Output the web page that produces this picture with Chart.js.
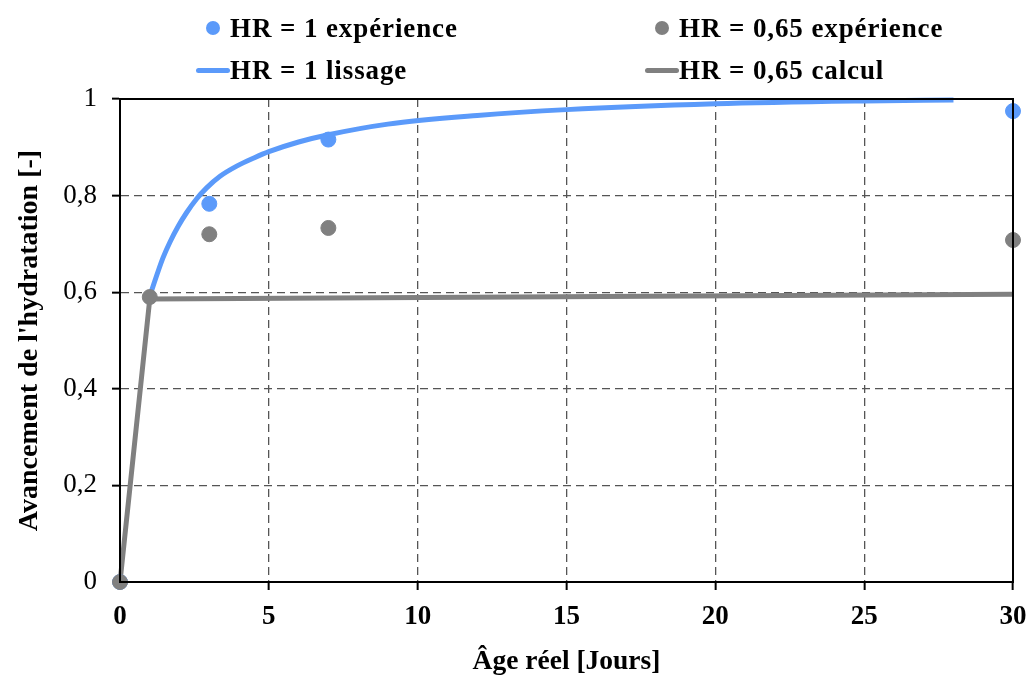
<!DOCTYPE html>
<html>
<head>
<meta charset="utf-8">
<script src="https://cdn.jsdelivr.net/npm/chart.js@4"></script>
<style>
  body { margin: 0; background: #fff; }
  #wrap { position: relative; width: 1030px; height: 676px; }
  #legend { position: absolute; left: 0; top: 0; width: 1030px; height: 95px;
            font: bold 27px 'Liberation Serif', serif; letter-spacing: 0.9px; color: #000; }
  .item { position: absolute; display: flex; align-items: center; height: 30px; }
  .mark { width: 34px; height: 30px; position: relative; }
  .dot { position: absolute; width: 14px; height: 14px; border-radius: 50%; left: 10px; top: 8px; }
  .ln { position: absolute; height: 5px; border-radius: 3px; left: 0; right: 0; top: 13px; }
</style>
</head>
<body>
<div id="wrap">
  <canvas id="chart" width="1030" height="676"></canvas>
  <div id="legend"></div>
</div>
<script>
const blue = '#5b9afa';
const grey = '#808080';

// HR = 1 expérience
const joursExp1 = [0, 3, 7, 30];
const avancExp1 = [0, 0.783, 0.916, 0.975];

// HR = 0,65 expérience
const joursExp065 = [0, 1, 3, 7, 30];
const avancExp065 = [0, 0.59, 0.72, 0.733, 0.708];

// HR = 1 lissage
const joursLissage = [1, 1.29, 1.45, 1.68, 1.96, 2.24, 2.57, 2.91, 3.36, 3.92, 4.5, 5, 6, 7, 9, 12, 15, 20, 25, 28];
const avancLissage = [0.592, 0.645, 0.672, 0.704, 0.737, 0.765, 0.793, 0.816, 0.84, 0.861, 0.878, 0.891, 0.911, 0.926, 0.948, 0.966, 0.978, 0.99, 0.996, 0.998];

// HR = 0,65 calcul
const joursCalcul = [0, 1, 30];
const avancCalcul = [0, 0.586, 0.596];

const xTicks = [0, 5, 10, 15, 20, 25, 30];

const toXY = (xs, ys) => xs.map((x, i) => ({ x: x, y: ys[i] }));

const frame = {
  id: 'frame',
  afterDatasetsDraw(chart) {
    const a = chart.chartArea;
    const ctx = chart.ctx;
    ctx.save();
    ctx.strokeStyle = '#000';
    ctx.lineWidth = 2;
    ctx.strokeRect(a.left, a.top, a.right - a.left, a.bottom - a.top);
    ctx.restore();
  }
};

const chart = new Chart(document.getElementById('chart').getContext('2d'), {
  type: 'scatter',
  data: {
    datasets: [
      { label: 'HR = 1 expérience', data: toXY(joursExp1, avancExp1), backgroundColor: blue, borderColor: blue,
        pointRadius: 7.5, showLine: false, order: 1, clip: false, legendCol: 0, legendRow: 0 },
      { label: 'HR = 0,65 expérience', data: toXY(joursExp065, avancExp065), backgroundColor: grey, borderColor: grey,
        pointRadius: 7.5, showLine: false, order: 0, clip: false, legendCol: 1, legendRow: 0 },
      { label: 'HR = 1 lissage', data: toXY(joursLissage, avancLissage), borderColor: blue, backgroundColor: blue,
        showLine: true, borderWidth: 5, pointRadius: 0, cubicInterpolationMode: 'monotone',
        order: 3, clip: false, legendCol: 0, legendRow: 1 },
      { label: 'HR = 0,65 calcul', data: toXY(joursCalcul, avancCalcul), borderColor: grey, backgroundColor: grey,
        showLine: true, borderWidth: 5, pointRadius: 0, order: 2, clip: false, legendCol: 1, legendRow: 1 }
    ]
  },
  options: {
    responsive: false,
    animation: false,
    layout: { padding: { top: 99, right: 17, left: 0, bottom: 0 } },
    plugins: { legend: { display: false }, tooltip: { enabled: false } },
    scales: {
      x: {
        type: 'linear', min: 0, max: 30,
        afterFit: s => { s.height = 94; s.paddingLeft = 0; s.paddingRight = 0; },
        afterBuildTicks: s => { s.ticks = xTicks.map(v => ({ value: v })); },
        grid: { color: '#555', lineWidth: 1.3, tickLength: 8, tickColor: '#000', tickWidth: 2 },
        border: { color: '#000', width: 2, dash: [8, 5] },
        ticks: { color: '#000', padding: 11, font: { family: 'Liberation Serif', size: 27, weight: 'bold' } },
        title: { display: true, text: 'Âge réel [Jours]', color: '#000', padding: { top: 0, bottom: 0 },
                 font: { family: 'Liberation Serif', size: 27.5, weight: 'bold', lineHeight: 1.05 } }
      },
      y: {
        type: 'linear', min: 0, max: 1,
        afterFit: s => { s.width = 120; },
        grid: { color: '#555', lineWidth: 1.3, tickLength: 8, tickColor: '#000', tickWidth: 2 },
        border: { color: '#000', width: 2, dash: [8, 5] },
        ticks: { stepSize: 0.2, color: '#000', padding: 15,
                 font: { family: 'Liberation Serif', size: 27 },
                 callback: v => String(Math.round(v * 10) / 10).replace('.', ',') },
        title: { display: true, text: "Avancement de l'hydratation [-]", color: '#000', padding: { top: 15, bottom: 0 },
                 font: { family: 'Liberation Serif', size: 28, weight: 'bold', lineHeight: 1.05 } }
      }
    }
  },
  plugins: [frame]
});

// legend laid out in two columns, built from the datasets
const colLeft = [196, 645];
const rowTop = [13, 55];
const legend = document.getElementById('legend');
chart.data.datasets.forEach(ds => {
  const item = document.createElement('div');
  item.className = 'item';
  item.style.left = colLeft[ds.legendCol] + 'px';
  item.style.top = rowTop[ds.legendRow] + 'px';
  const mark = document.createElement('div');
  mark.className = 'mark';
  const sym = document.createElement('div');
  sym.className = ds.showLine ? 'ln' : 'dot';
  sym.style.background = ds.borderColor;
  mark.appendChild(sym);
  const txt = document.createElement('span');
  txt.textContent = ds.label;
  item.appendChild(mark);
  item.appendChild(txt);
  legend.appendChild(item);
});
</script>
</body>
</html>
